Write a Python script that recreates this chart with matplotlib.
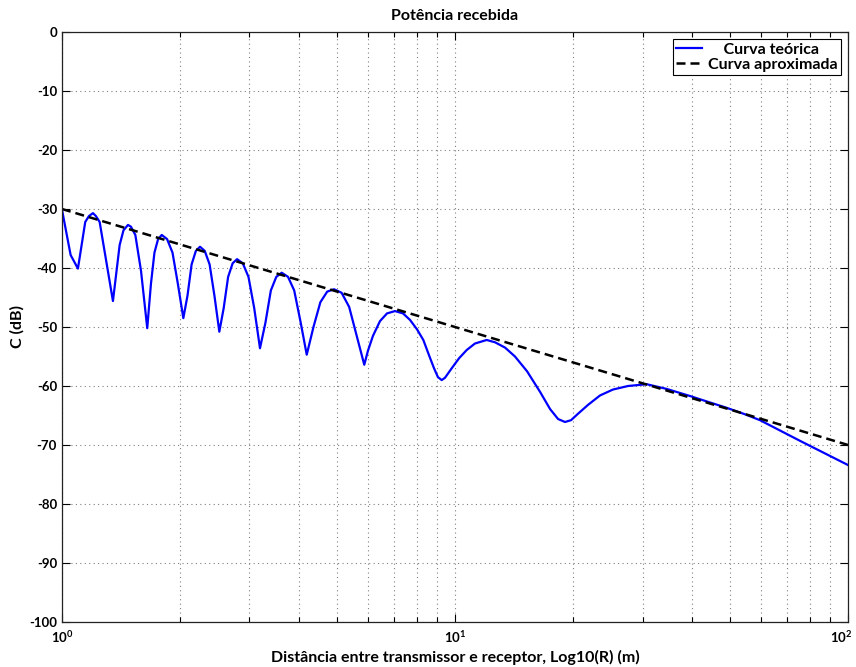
import matplotlib
matplotlib.use("Agg")
import math
import matplotlib.pyplot as plt
import matplotlib.transforms as mtransforms
from matplotlib.ticker import FixedLocator, LogLocator, NullFormatter, FuncFormatter

plt.rcParams['font.family'] = ['Lato', 'DejaVu Sans']
plt.rcParams['font.weight'] = 'bold'
plt.rcParams['axes.unicode_minus'] = False
plt.rcParams['mathtext.fontset'] = 'custom'
plt.rcParams['mathtext.rm'] = 'Lato:bold'
plt.rcParams['mathtext.bf'] = 'Lato:bold'
plt.rcParams['mathtext.it'] = 'Lato:bold'

# Theoretical curve
R_teo = [1.000, 1.052, 1.098, 1.146, 1.171, 1.199, 1.220, 1.247, 1.348,
         1.402, 1.434, 1.472, 1.498, 1.537, 1.589, 1.648,
         1.684, 1.719, 1.756, 1.794, 1.851, 1.911, 1.972, 2.036,
         2.086, 2.137, 2.191, 2.245, 2.308, 2.375, 2.443, 2.514,
         2.579, 2.647, 2.718, 2.789, 2.884, 2.982, 3.084, 3.190,
         3.293, 3.400, 3.510, 3.623, 3.759, 3.898, 4.045, 4.195,
         4.364, 4.544, 4.730, 4.922, 5.146, 5.379, 5.622, 5.877,
         6.006, 6.184, 6.444, 6.714, 7.036, 7.374, 7.683, 8.005, 8.306,
         8.589, 8.844, 9.049, 9.251, 9.432, 9.808, 10.24, 10.71, 11.24,
         12.04, 12.65, 13.41, 14.21, 15.25, 16.46, 17.45, 18.29, 19.05,
         19.73, 20.56, 21.80, 23.39, 25.23, 27.56, 30.74, 34.57, 39.63,
         44.56, 49.13, 54.70, 59.72, 75.50, 100.0]
C_teo = [-30.1, -37.8, -40.1, -32.2, -31.2, -30.7, -31.2, -32.2, -45.6,
         -36.1, -33.6, -32.7, -33.0, -34.4, -40.5, -50.2,
         -42.7, -37.4, -35.1, -34.4, -35.1, -37.4, -42.7, -48.5,
         -44.7, -39.4, -37.1, -36.4, -37.1, -39.4, -44.7, -50.8,
         -46.8, -41.5, -39.2, -38.5, -39.2, -41.5, -46.8, -53.6,
         -49.3, -43.8, -41.5, -40.8, -41.5, -43.8, -49.1, -54.7,
         -50.0, -45.8, -44.0, -43.6, -44.2, -46.6, -51.5, -56.4,
         -54.0, -51.5, -49.0, -47.7, -47.3, -47.7, -48.8, -50.4, -52.2,
         -54.8, -57.0, -58.5, -59.0, -58.6, -57.0, -55.3, -53.9, -52.8,
         -52.2, -52.6, -53.5, -55.0, -57.5, -61.0, -63.9, -65.6, -66.1,
         -65.8, -64.7, -63.2, -61.6, -60.6, -60.0, -59.7, -60.5, -61.7,
         -62.8, -63.7, -64.8, -65.8, -69.3, -73.4]

# Approximate curve
R_apr = [1.0, 100.0]
C_apr = [-30.0, -70.0]

title = "Potência recebida"
xlabel = "Distância entre transmissor e receptor, Log10(R) (m)"
ylabel = "C (dB)"
labels = ["    Curva teórica", "Curva aproximada"]
xticks = [1, 10, 100]
yticks = list(range(-100, 1, 10))

fig = plt.figure(figsize=(8.56, 6.67), dpi=100)
ax = fig.add_axes([0.0724, 0.0675, 0.9183, 0.8845])

ax.plot(R_teo, C_teo, color=(0, 0, 1), lw=1.6, label=labels[0])
ax.plot(R_apr, C_apr, color='black', lw=1.8, ls=(0, (3.6, 2.0)), label=labels[1])

ax.set_xscale('log')
ax.set_xlim(1, 100)
ax.set_ylim(-100, 0)
ax.yaxis.set_major_locator(FixedLocator(yticks))
ax.xaxis.set_major_locator(FixedLocator(xticks))
ax.xaxis.set_minor_locator(LogLocator(base=10, subs=range(2, 10), numticks=20))
ax.xaxis.set_minor_formatter(NullFormatter())


def fmt(v, pos):
    e = int(round(math.log10(v)))
    return r'$10^{%d}$' % e


ax.xaxis.set_major_formatter(FuncFormatter(fmt))

ax.grid(True, which='major', ls=(0, (1, 3)), color='#808080', lw=0.8)
ax.grid(True, which='minor', axis='x', ls=(0, (1, 3)), color='#808080', lw=0.8)

ax.tick_params(which='both', direction='in', top=True, right=True, width=0.8)
ax.tick_params(axis='y', labelsize=9.5)
ax.tick_params(axis='x', labelsize=9.5, pad=5)
ax.tick_params(which='major', length=6)
ax.tick_params(which='minor', length=3.5)
for sp in ax.spines.values():
    sp.set_linewidth(0.9)
    sp.set_color('#222222')

ax.set_title(title, fontsize=11.5, fontweight='bold', pad=9)
ax.set_xlabel(xlabel, fontsize=11.5, fontweight='bold', labelpad=4)
ax.set_ylabel(ylabel, fontsize=11.5, fontweight='bold', labelpad=3)

leg = ax.legend(loc='upper right', fontsize=11.5, frameon=True, fancybox=False,
                edgecolor='black', framealpha=1, handlelength=1.6,
                handletextpad=0.4, borderaxespad=0.45, borderpad=0.2,
                labelspacing=0.05)
leg.get_frame().set_linewidth(0.8)
for t in leg.get_texts():
    t.set_fontweight('bold')

# keep the last x tick label inside the figure
fig.canvas.draw()
last = ax.xaxis.get_major_ticks()[-1].label1
last.set_transform(last.get_transform() +
                   mtransforms.ScaledTranslation(-5 / 72, 0, fig.dpi_scale_trans))

fig.savefig('out.png', dpi=100)
